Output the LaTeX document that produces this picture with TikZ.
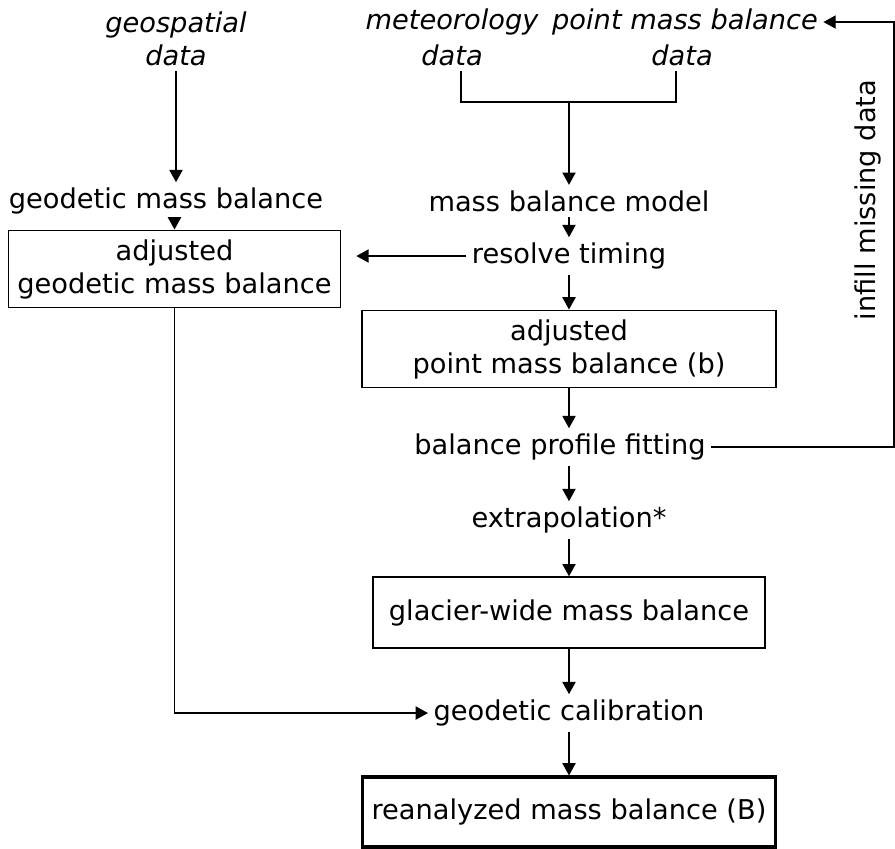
\documentclass[tikz,border=0pt]{standalone}
\usepackage{fontspec}
\setmainfont{DejaVu Sans}
\usetikzlibrary{arrows.meta}
\usetikzlibrary{positioning}

\tikzset{
	lbl/.style={align=center, inner sep=3pt},
	itlbl/.style={lbl, font=\itshape},
	box/.style={draw, line width=0.8pt, align=center},
	flow/.style={line width=0.8pt, -{Triangle[length=7pt,width=7.5pt]}},
	plain/.style={line width=0.8pt}
}

\begin{document}
\fontsize{15.5}{18.8}\selectfont
\begin{tikzpicture}[scale=1]
		\useasboundingbox (0,0) rectangle (17.9,-16.96);
		
		%inputs
		\node[itlbl] (geo) at (3.52,-0.77) {geospatial\\data};
		\node[itlbl] (met) at (9.04,-0.44) {meteorology};
		\node[itlbl] (metd) at (9.04,-1.1) {data};
		\node[itlbl] (pmb) at (13.7,-0.44) {point mass balance};
		\node[itlbl] (pmbd) at (13.64,-1.1) {data};
		
		%left column
		\node[lbl] (gmb) at (3.32,-4.02) {geodetic mass balance};
		\node[box, minimum width=6.54cm, minimum height=1.48cm] (agmb) at (3.49,-5.38) {adjusted\\geodetic mass balance};
		
		%main column
		\node[lbl] (mbm) at (11.38,-4.02) {mass balance model};
		\node[lbl] (rt) at (11.38,-5.12) {resolve timing};
		\node[box, minimum width=8.28cm, minimum height=1.44cm] (apmb) at (11.38,-6.98) {adjusted\\point mass balance (b)};
		\node[lbl] (bpf) at (11.2,-8.94) {balance profile fitting};
		\node[lbl] (ext) at (11.38,-10.4) {extrapolation*};
		\node[box, minimum width=7.84cm, minimum height=1.42cm] (gwmb) at (11.38,-12.25) {glacier-wide mass balance};
		\node[lbl] (gc) at (11.38,-14.26) {geodetic calibration};
		\node[box, line width=1.8pt, minimum width=8cm, minimum height=1.4cm] (rmb) at (11.38,-16.24) {reanalyzed mass balance (B)};
		
		%feedback
		\coordinate (brk) at (11.38,-2.04);
		\coordinate (fb) at (17.88,-0.44);
		\node[lbl, rotate=90] (infill) at (17.36,-4.0) {infill missing data};
		
		%arrows
		\draw[flow] (geo.south) -- (geo.south |- gmb.north);
		\draw[flow] (agmb.north |- gmb.south) -- (agmb.north);
		\draw[plain] ([xshift=0.18cm]metd.south) |- (brk) -| ([xshift=-0.12cm]pmbd.south);
		\draw[flow] (brk) -- (mbm.north);
		\draw[flow] (mbm.south) -- (rt.north);
		\draw[flow, shorten >=0.3cm] (rt.west) -- (agmb.east |- rt.west);
		\draw[flow] (rt.south) -- (apmb.north);
		\draw[flow] (apmb.south) -- (apmb.south |- bpf.north);
		\draw[flow] (ext.north |- bpf.south) -- (ext.north);
		\draw[flow] (ext.south) -- (gwmb.north);
		\draw[flow] (gwmb.south) -- (gc.north);
		\draw[flow] (gc.south) -- (rmb.north);
		\draw[flow] (agmb.south) |- (gc.west);
		\draw[flow] (bpf.east) -| (fb) -- (pmb.east);
\end{tikzpicture}
\end{document}
